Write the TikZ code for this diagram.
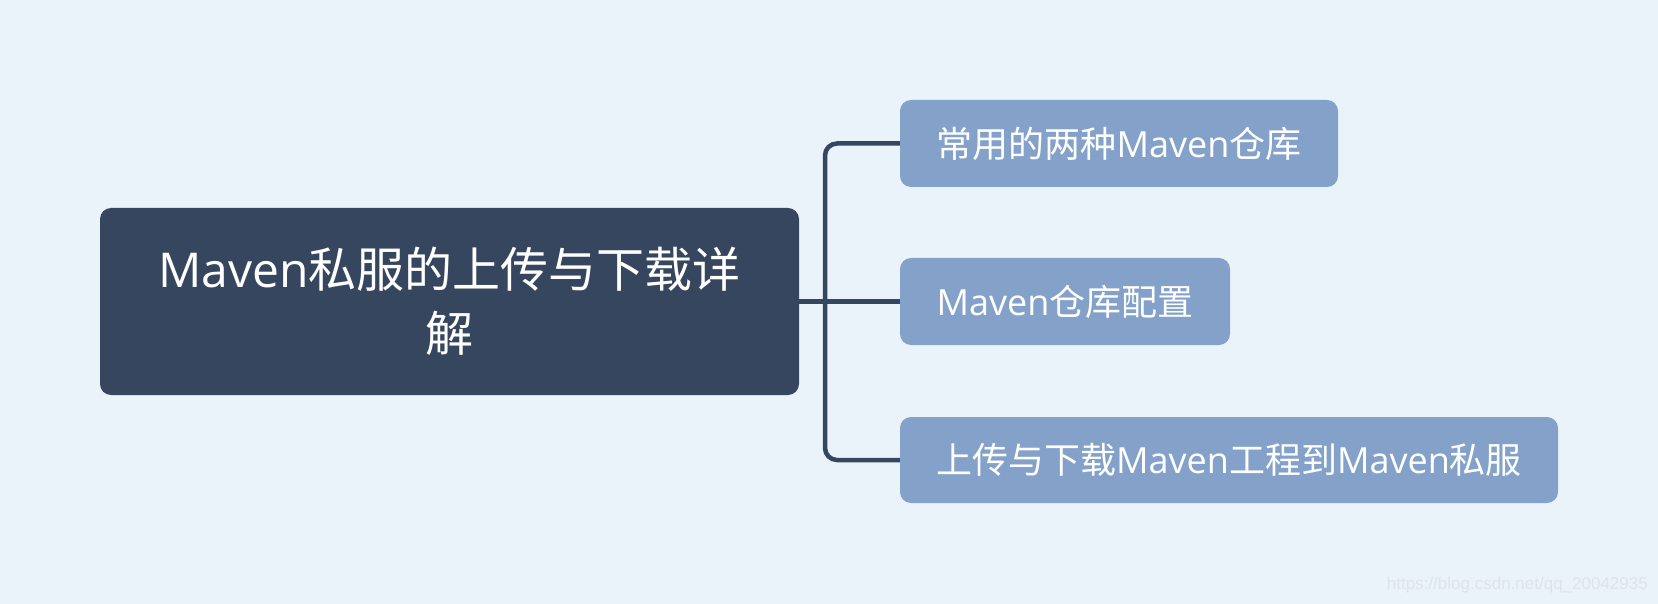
\documentclass[tikz,border=0pt]{standalone}
\usepackage{fontspec}
\setmainfont{Open Sans}
\newfontfamily\cjk{Noto Sans CJK SC}
\newfontfamily\wmfont{Liberation Sans}
\definecolor{bgc}{HTML}{EBF3FA}
\definecolor{rootc}{HTML}{35465E}
\definecolor{childc}{HTML}{84A2C9}
\definecolor{wmc}{HTML}{DDE4EB}
\tikzset{
  rootbox/.style={fill=rootc, rounded corners=11pt, text=white, align=center, inner sep=0pt,
    font=\fontsize{48}{64}\selectfont},
  childbox/.style={fill=childc, rounded corners=11pt, text=white, inner sep=0pt,
    font=\fontsize{36}{42}\selectfont},
  link/.style={draw=rootc, line width=4.5pt},
}
\begin{document}
\begin{tikzpicture}[x=1pt,y=-1pt]
\fill[bgc] (0,0) rectangle (1658,604);
\useasboundingbox (0,0) rectangle (1658,604);
\node[rootbox, minimum width=699pt, minimum height=187pt] (root) at (449.5,301.5)
  {Maven{\cjk 私服的上传与下载详}\\{\cjk 解}};
\node[childbox, minimum width=438pt, minimum height=87pt] (c1) at (1119,143.5)
  {{\cjk 常用的两种}Maven{\cjk 仓库}};
\node[childbox, minimum width=330pt, minimum height=87pt] (c2) at (1065,301.5)
  {Maven{\cjk 仓库配置}};
\node[childbox, minimum width=658pt, minimum height=86pt] (c3) at (1229,460)
  {{\cjk 上传与下载}Maven{\cjk 工程到}Maven{\cjk 私服}};
\coordinate (tx) at (825,0);
\draw[link] (root.east) -- (c2.west);
\draw[link, rounded corners=12pt] (c1.west) -- (c1.west -| tx) -- (c3.west -| tx) -- (c3.west);
\node[text=wmc, font=\wmfont\fontsize{17}{20}\selectfont, anchor=east, inner sep=0pt] (wm) at (1648,585)
  {https://blog.csdn.net/qq\_20042935};
\end{tikzpicture}
\end{document}
